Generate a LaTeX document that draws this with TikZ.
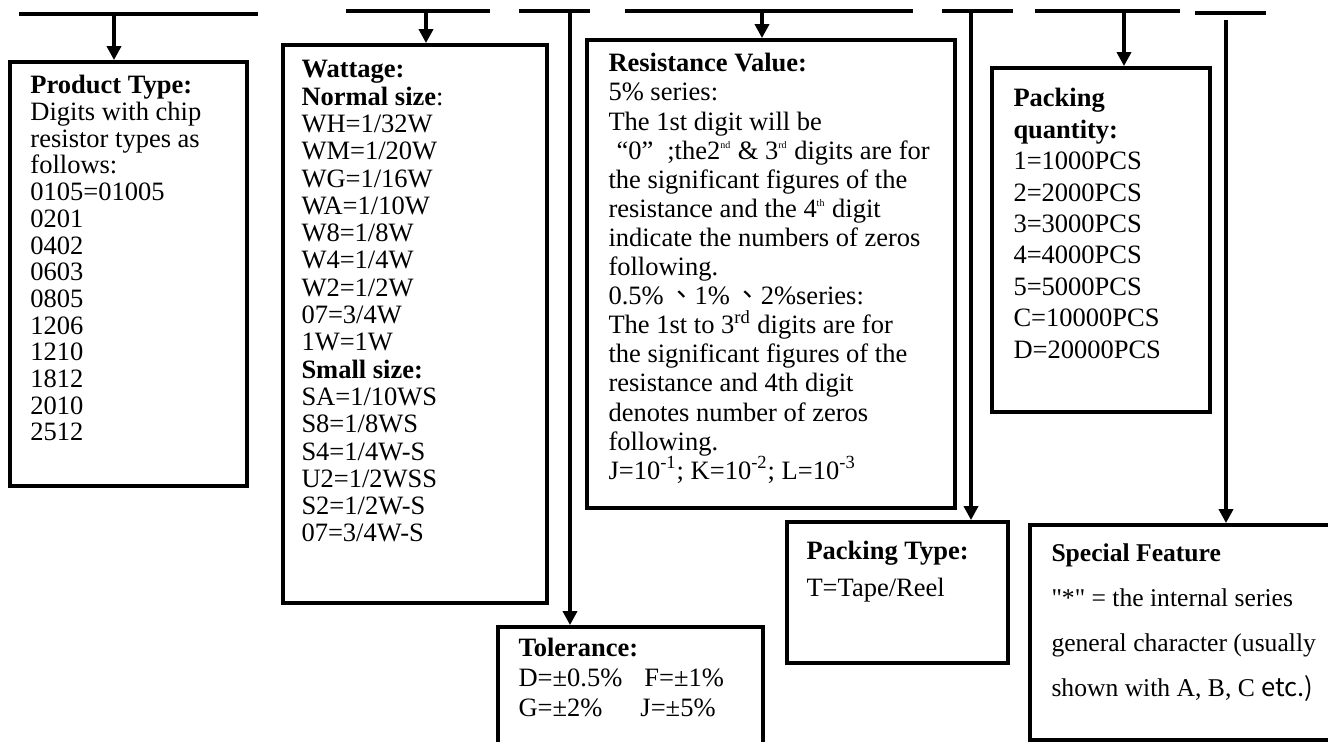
\documentclass[tikz,border=0pt]{standalone}
\usepackage{fontspec}
\setmainfont{Liberation Serif}
\newfontfamily\cjk{Noto Sans CJK TC}
\usetikzlibrary{arrows.meta}
\tikzset{
  box/.style={draw, line width=1.9pt, inner sep=0pt},
  txt/.style={anchor=north west, inner sep=0pt, align=left},
  bar/.style={line width=2.4pt},
  drop/.style={line width=1.9pt},
}
\begin{document}
\begin{tikzpicture}[x=0.5pt, y=-0.5pt, >={Triangle[length=7pt,width=7pt]}]
\useasboundingbox (0,0) rectangle (1328,742);
\clip (0,0) rectangle (1328,742);
% boxes
\node[box, minimum width=118.5pt, minimum height=212pt] (type) at (128.5,274) {};
\node[box, minimum width=132pt, minimum height=279pt] (watt) at (415,324) {};
\node[box, minimum width=184pt, minimum height=234pt] (res) at (771,274) {};
\node[box, minimum width=109pt, minimum height=172pt] (qty) at (1101,240) {};
\node[box, minimum width=132.5pt, minimum height=76.5pt] (tol) at (630.5,703.5) {};
\node[box, minimum width=110.5pt, minimum height=70.5pt] (ptype) at (897.5,592.5) {};
\node[box, minimum width=160pt, minimum height=107.5pt] (feat) at (1190,632.5) {};
% texts
\node[txt, font=\fontsize{13.25pt}{13.35pt}\selectfont] (typetxt) at ([shift={(22,15)}]type.north west)
  {\textbf{Product Type:}\\Digits with chip\\resistor types as\\follows:\\0105=01005\\0201\\0402\\0603\\0805\\1206\\1210\\1812\\2010\\2512};
\node[txt, font=\fontsize{13.25pt}{13.65pt}\selectfont] (watttxt) at ([shift={(20,17)}]watt.north west)
  {\textbf{Wattage:}\\\textbf{Normal size}:\\WH=1/32W\\WM=1/20W\\WG=1/16W\\WA=1/10W\\W8=1/8W\\W4=1/4W\\W2=1/2W\\07=3/4W\\1W=1W\\\textbf{Small size:}\\SA=1/10WS\\S8=1/8WS\\S4=1/4W-S\\U2=1/2WSS\\S2=1/2W-S\\07=3/4W-S};
\node[txt, font=\fontsize{13.25pt}{14.55pt}\selectfont] (restxt) at ([shift={(23,15)}]res.north west)
  {\textbf{Resistance Value:}\\5\% series:\\The 1st digit will be\\
   \hspace*{4pt}“0”\hspace{7pt};the2\textsuperscript{\tiny nd} \& 3\textsuperscript{\tiny rd} digits are for\\
   the significant figures of the\\resistance and the 4\textsuperscript{\tiny th} digit\\indicate the numbers of zeros\\following.\\
   0.5\%\,{\cjk 、}1\%\,{\cjk 、}2\%series:\\The 1st to 3\textsuperscript{rd} digits are for\\
   the significant figures of the\\resistance and 4th digit\\denotes number of zeros\\following.\\
   J=10\textsuperscript{-1}; K=10\textsuperscript{-2}; L=10\textsuperscript{-3}};
\node[txt, font=\fontsize{13.25pt}{15.7pt}\selectfont] (qtytxt) at ([shift={(23,22)}]qty.north west)
  {\textbf{Packing}\\\textbf{quantity:}\\1=1000PCS\\2=2000PCS\\3=3000PCS\\4=4000PCS\\5=5000PCS\\C=10000PCS\\D=20000PCS};
\node[txt, font=\fontsize{13.25pt}{15pt}\selectfont] (toltxt) at ([shift={(22,13)}]tol.north west)
  {\textbf{Tolerance:}\\\makebox[63pt][l]{D=±0.5\%}F=±1\%\\\makebox[61pt][l]{G=±2\%}J=±5\%};
\node[txt, font=\fontsize{13.25pt}{18.5pt}\selectfont] (ptypetxt) at ([shift={(21,21)}]ptype.north west)
  {\textbf{Packing Type:}\\T=Tape/Reel};
\node[txt, font=\fontsize{12.8pt}{22.5pt}\selectfont] (feattxt) at ([shift={(23,20)}]feat.north west)
  {\textbf{Special Feature}\\{\addfontfeatures{Ligatures=TeXOff}"*"} = the internal series\\general character (usually\\shown with A, B, C {\cjk etc.)}};
% marks on top
\coordinate (b1a) at (19,14);
\coordinate (b1b) at (258,14);
\coordinate (b2a) at (346,11);
\coordinate (b2b) at (490,11);
\coordinate (b3a) at (519,11);
\coordinate (b3b) at (590,11);
\coordinate (b4a) at (625,11);
\coordinate (b4b) at (913,11);
\coordinate (b5a) at (942,11);
\coordinate (b5b) at (1013,11);
\coordinate (b6a) at (1035,11);
\coordinate (b6b) at (1180,11);
\coordinate (b7a) at (1195,13);
\coordinate (b7b) at (1266,13);
\draw[bar] (b1a) to[] (b1b);
\draw[bar] (b2a) to[] (b2b);
\draw[bar] (b3a) to[] (b3b);
\draw[bar] (b4a) to[] (b4b);
\draw[bar] (b5a) to[] (b5b);
\draw[bar] (b6a) to[] (b6b);
\draw[bar] (b7a) to[] (b7b);
% drops to the boxes
\coordinate (d1) at (114,14);
\coordinate (d2) at (426,11);
\coordinate (d3) at (570,11);
\coordinate (d4) at (762,11);
\coordinate (d5) at (971,11);
\coordinate (d6) at (1124,11);
\coordinate (d7) at (1226,20);
\draw[drop, ->] (d1) to[] (d1 |- type.north);
\draw[drop, ->] (d2) to[] (d2 |- watt.north);
\draw[drop, ->] (d3) to[] (d3 |- tol.north);
\draw[drop, ->] (d4) to[] (d4 |- res.north);
\draw[drop, ->] (d5) to[] (d5 |- ptype.north);
\draw[drop, ->] (d6) to[] (d6 |- qty.north);
\draw[drop, ->] (d7) to[] (d7 |- feat.north);
\end{tikzpicture}
\end{document}
